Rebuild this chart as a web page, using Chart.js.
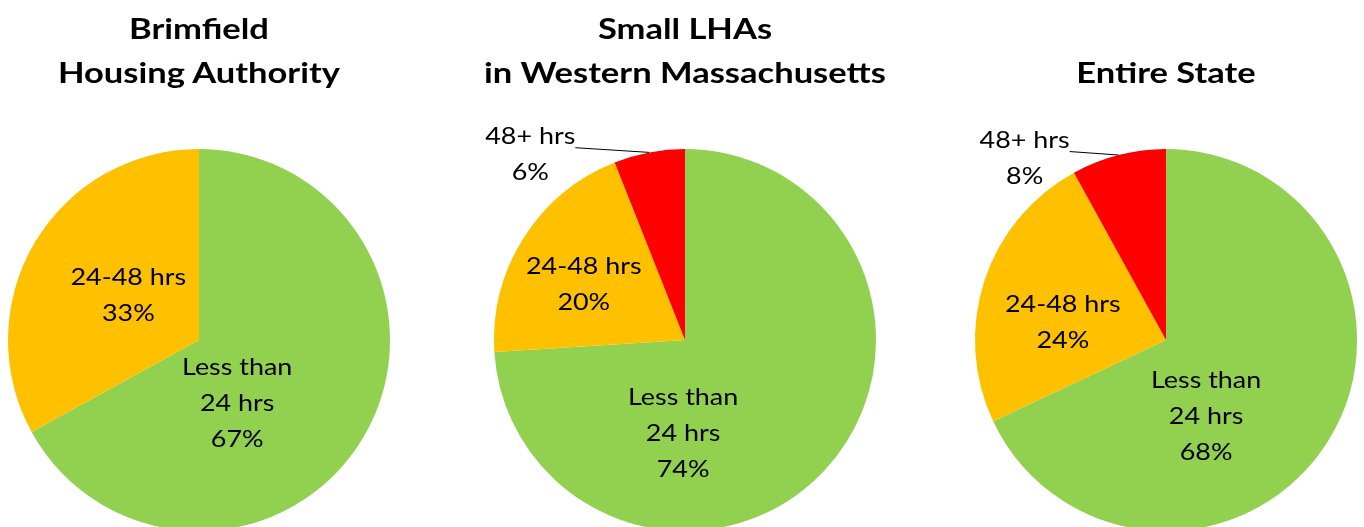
<!DOCTYPE html>
<html>
<head>
<meta charset="utf-8">
<script src="https://cdn.jsdelivr.net/npm/chart.js@4.4.1/dist/chart.umd.min.js"></script>
<style>
body{margin:0;width:1364px;height:527px;overflow:hidden;background:#fff;position:relative;font-family:Lato,"Open Sans",sans-serif}
.panel{position:absolute;top:0;width:460px;height:540px}
.titulo{position:absolute;width:460px;text-align:center;font-weight:bold;font-size:29px;line-height:44px;color:#000;transform:scaleX(1.19)}
</style>
</head>
<body>
<div class="panel" id="p0"><div class="titulo" id="t0"></div><canvas id="c0"></canvas></div>
<div class="panel" id="p1"><div class="titulo" id="t1"></div><canvas id="c1"></canvas></div>
<div class="panel" id="p2"><div class="titulo" id="t2"></div><canvas id="c2"></canvas></div>
<script>
// datos
const categorias = ['Less than 24 hrs', '24-48 hrs', '48+ hrs'];
const etiquetas = [['Less than', '24 hrs'], ['24-48 hrs'], ['48+ hrs']];
const titulos = [['Brimfield', 'Housing Authority'], ['Small LHAs', 'in Western Massachusetts'], ['Entire State']];
const brimfield = [67, 33, 0];
const smallLHAs = [74, 20, 6];
const entireState = [68, 24, 8];
const colores = ['#92D050', '#FFC000', '#FF0000'];

// donde va cada etiqueta (fraccion del radio, respecto al centro)
const posEtiquetas = [
    [[0.20, 0.335], [-0.37, -0.23], null],
    [[-0.01, 0.49], [-0.53, -0.29], [-0.81, -0.97]],
    [[0.21, 0.40], [-0.54, -0.09], [-0.74, -0.95]]
];
const externas = [false, false, true]; // la de 48+ va fuera con linea

const centros = [199, 685, 1166];
const R = 191, CY = 340, ALTO = 540, ANCHO = 460;
const ESTIRA = 1.17; // el texto del original sale mas ancho

// plugin para las etiquetas
const etiquetasPlugin = {
    id: 'etiquetas',
    afterDraw(chart) {
        const ctx = chart.ctx;
        const idx = chart.options.plugins.etiquetas.idx;
        const meta = chart.getDatasetMeta(0);
        const valores = chart.data.datasets[0].data;
        ctx.save();
        ctx.font = '23px Lato, "Open Sans", sans-serif';
        ctx.fillStyle = '#000';
        ctx.textAlign = 'center';
        ctx.textBaseline = 'middle';
        meta.data.forEach((arc, i) => {
            if (!valores[i]) return;
            const pos = posEtiquetas[idx][i];
            if (!pos) return;
            const r = arc.outerRadius;
            const cx = arc.x + pos[0] * r;
            const cy = arc.y + pos[1] * r;
            const lineas = etiquetas[i].concat([valores[i] + '%']);
            const paso = 36;
            lineas.forEach((t, k) => {
                ctx.save();
                ctx.translate(cx, cy + (k - (lineas.length - 1) / 2) * paso);
                ctx.scale(ESTIRA, 1);
                ctx.fillText(t, 0, 0);
                ctx.restore();
            });
            if (externas[i]) {
                // linea guia hasta el borde del sector
                const w = ctx.measureText(lineas[0]).width * ESTIRA;
                const x0 = cx + w / 2;
                const y0 = cy - (lineas.length - 1) / 2 * paso + 11;
                const medio = (arc.startAngle + arc.endAngle) / 2;
                const x1 = arc.x + Math.cos(medio) * r;
                const y1 = arc.y + Math.sin(medio) * r;
                ctx.strokeStyle = '#000';
                ctx.lineWidth = 1;
                ctx.beginPath();
                ctx.moveTo(x0, y0);
                ctx.lineTo(x1, y1);
                ctx.stroke();
            }
        });
        ctx.restore();
    }
};

const series = [brimfield, smallLHAs, entireState];

series.forEach((datos, idx) => {
    const panel = document.getElementById('p' + idx);
    panel.style.left = (centros[idx] - ANCHO / 2) + 'px';
    const t = document.getElementById('t' + idx);
    t.innerHTML = titulos[idx].join('<br>');
    t.style.top = (titulos[idx].length == 2 ? 6 : 50) + 'px';

    new Chart(document.getElementById('c' + idx), {
        type: 'pie',
        data: {
            labels: categorias,
            datasets: [{
                data: datos,
                backgroundColor: colores,
                borderWidth: 0,
                offset: 0,
                hoverOffset: 0
            }]
        },
        options: {
            responsive: true,
            maintainAspectRatio: false,
            animation: false,
            layout: {
                padding: {
                    top: CY - R,
                    bottom: ALTO - CY - R,
                    left: ANCHO / 2 - R,
                    right: ANCHO / 2 - R
                }
            },
            plugins: {
                legend: { display: false },
                tooltip: { enabled: false },
                etiquetas: { idx: idx }
            }
        },
        plugins: [etiquetasPlugin]
    });
});
</script>
</body>
</html>
